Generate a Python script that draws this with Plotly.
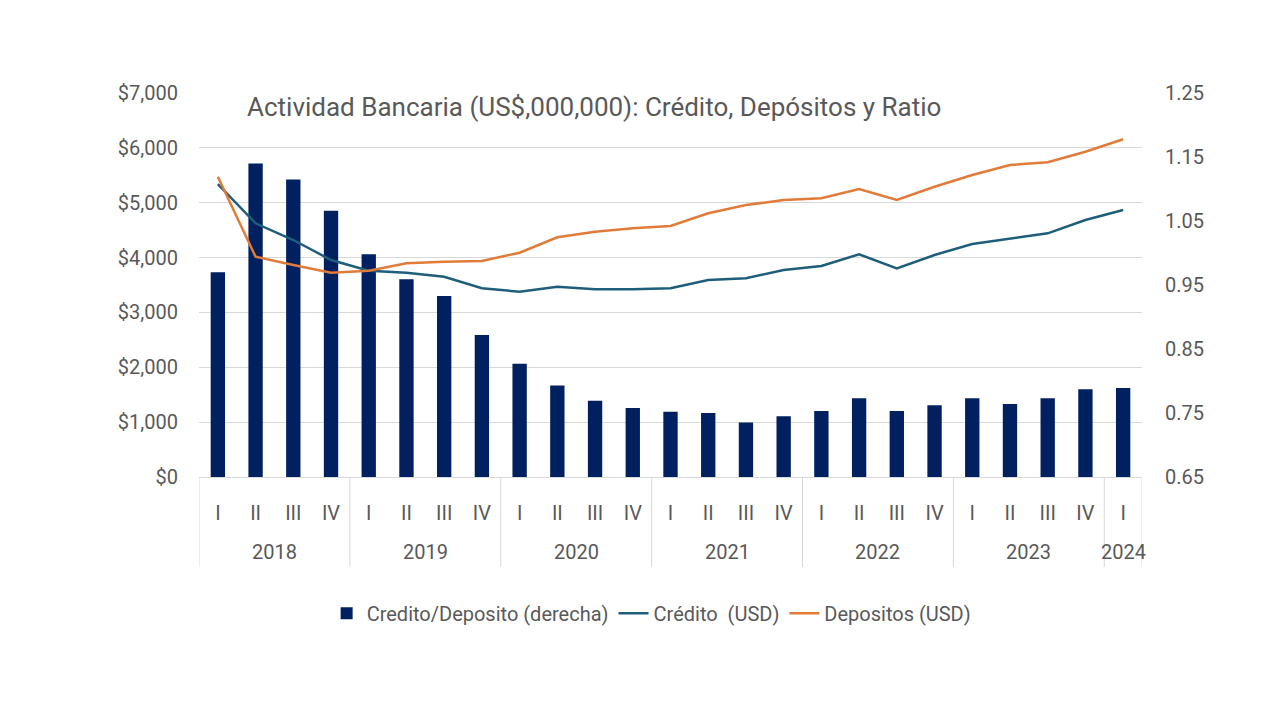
import plotly.graph_objects as go

years = ["2018"]*4 + ["2019"]*4 + ["2020"]*4 + ["2021"]*4 + ["2022"]*4 + ["2023"]*4 + ["2024"]
quarters = ["I", "II", "III", "IV"]*6 + ["I"]

ratio = [0.970, 1.140, 1.115, 1.066, 0.998, 0.959, 0.933, 0.872, 0.827, 0.793, 0.769, 0.758,
         0.752, 0.750, 0.735, 0.745, 0.753, 0.773, 0.753, 0.762, 0.773, 0.764, 0.773, 0.787, 0.789]
credito = [5341, 4625, 4320, 3956, 3761, 3724, 3651, 3440, 3378, 3469, 3422, 3422,
           3440, 3591, 3622, 3773, 3846, 4060, 3804, 4047, 4247, 4351, 4442, 4685, 4867]
depositos = [5474, 4016, 3865, 3724, 3761, 3896, 3925, 3937, 4089, 4369, 4472, 4534,
             4575, 4807, 4958, 5049, 5080, 5250, 5049, 5292, 5505, 5687, 5737, 5930, 6156]

left_ticks = [0, 1000, 2000, 3000, 4000, 5000, 6000, 7000]
left_labels = ["$0", "$1,000", "$2,000", "$3,000", "$4,000", "$5,000", "$6,000", "$7,000"]
right_ticks = [0.65, 0.75, 0.85, 0.95, 1.05, 1.15, 1.25]
right_labels = ["0.65", "0.75", "0.85", "0.95", "1.05", "1.15", "1.25"]

FONT = "Roboto"
GRAY = "#595959"
GRID = "#D9D9D9"

cats = [f"{y}-{q}" for y, q in zip(years, quarters)]

fig = go.Figure()
fig.add_trace(go.Bar(x=cats, y=ratio, name="Credito/Deposito (derecha)",
                     marker=dict(color="#002060", line=dict(width=0)), yaxis="y"))
fig.add_trace(go.Scatter(x=cats, y=credito, name="Crédito  (USD)", mode="lines",
                         line=dict(color="#1F5E7A", width=2.5), yaxis="y2"))
fig.add_trace(go.Scatter(x=cats, y=depositos, name="Depositos (USD)", mode="lines",
                         line=dict(color="#E07B39", width=2.5), yaxis="y2"))

# year group positions derived from data
groups = []
for i, y in enumerate(years):
    if not groups or groups[-1][0] != y:
        groups.append([y, i, i])
    else:
        groups[-1][2] = i

annotations = [dict(text="Actividad Bancaria (US$,000,000): Crédito, Depósitos y Ratio",
                    xref="paper", yref="paper", x=0.049, y=0.963, xanchor="left",
                    yanchor="middle", showarrow=False, font=dict(size=26, color=GRAY))]
shapes = []
for y, a, b in groups:
    annotations.append(dict(text=y, xref="x", yref="paper", x=(a + b) / 2, y=-0.195,
                            xanchor="center", yanchor="middle", showarrow=False,
                            font=dict(size=20, color=GRAY)))
    shapes.append(dict(type="line", xref="x", yref="paper", x0=a - 0.5, x1=a - 0.5,
                       y0=0, y1=-0.234, line=dict(color=GRID, width=1)))
shapes.append(dict(type="line", xref="x", yref="paper", x0=groups[-1][2] + 0.5,
                   x1=groups[-1][2] + 0.5, y0=0, y1=-0.234, line=dict(color=GRID, width=1)))

fig.update_layout(
    width=1264, height=704,
    margin=dict(l=191, r=130, t=85, b=235),
    paper_bgcolor="white", plot_bgcolor="white",
    font=dict(family=FONT, color=GRAY, size=19),
    bargap=0.62,
    showlegend=True,
    legend=dict(orientation="h", x=0.48, xanchor="center", y=-0.355, yanchor="middle",
                font=dict(size=20, color=GRAY), itemwidth=30, traceorder="normal"),
    xaxis=dict(type="category", tickvals=cats, ticktext=quarters, range=[-0.5, len(cats) - 0.5],
               showline=True, linecolor=GRID, linewidth=1,
               tickfont=dict(size=20, color=GRAY), showgrid=False, ticks="",
               ticklabelstandoff=18),
    yaxis=dict(side="right", range=[0.65, 1.25], tickvals=right_ticks, ticktext=right_labels,
               showgrid=False, zeroline=False, tickfont=dict(size=20, color=GRAY), ticklen=0,
               ticklabelstandoff=22),
    yaxis2=dict(side="left", overlaying="y", range=[0, 7000], tickvals=left_ticks,
                ticktext=left_labels, showgrid=True, gridcolor=GRID, gridwidth=1,
                zeroline=False, tickfont=dict(size=20, color=GRAY), ticklabelstandoff=20),
    annotations=annotations,
    shapes=shapes,
)

fig.write_html("out.html")
